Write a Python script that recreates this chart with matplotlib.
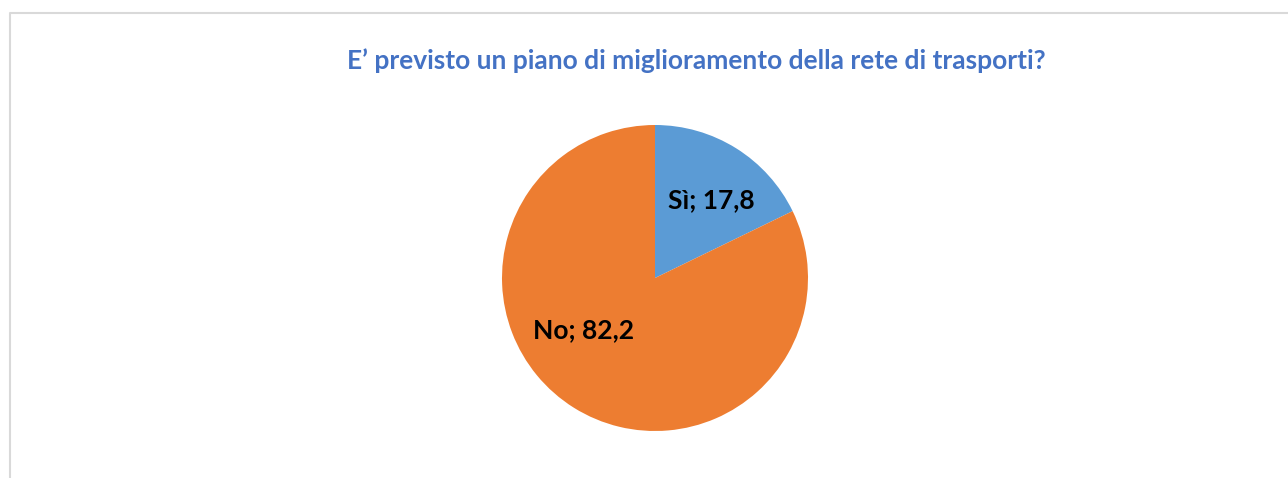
import matplotlib.pyplot as plt
from matplotlib.lines import Line2D
import numpy as np

labels = ['Sì', 'No']
values = [17.8, 82.2]
colors = ['#5B9BD5', '#ED7D31']
title = 'E\u2019 previsto un piano di miglioramento della rete di trasporti?'

plt.rcParams['font.family'] = ['Lato', 'DejaVu Sans']

W, H = 1288, 478
fig = plt.figure(figsize=(W / 100, H / 100), dpi=100)

# chart frame (only top and left edges visible)
fig.add_artist(Line2D([9.5 / W, 9.5 / W, 1.01], [-0.01, 1 - 12.5 / H, 1 - 12.5 / H],
                      transform=fig.transFigure, color='#d9d9d9', lw=1.5))

cx, cy, r = 655, 278, 153
ax = fig.add_axes([(cx - r) / W, (H - cy - r) / H, 2 * r / W, 2 * r / H])
wedges, _ = ax.pie(values, colors=colors, startangle=90, counterclock=False,
                   radius=1, wedgeprops=dict(linewidth=0))
ax.set_xlim(-1, 1)
ax.set_ylim(-1, 1)
ax.set_aspect('equal')
ax.axis('off')

# label positions (angle in degrees, distance from centre)
lab_pos = [(54, 0.63), (216, 0.575)]
for lab, v, (ang, d) in zip(labels, values, lab_pos):
    t = np.deg2rad(ang)
    ax.text(d * np.cos(t), d * np.sin(t), f'{lab}; {str(v).replace(".", ",")}',
            ha='center', va='center', fontsize=19, fontweight='bold', color='black')

fig.text(696 / W, 1 - 61 / H, title, ha='center', va='center',
         fontsize=19, fontweight='bold', color='#4472C4')

fig.savefig('out.png', dpi=100)
